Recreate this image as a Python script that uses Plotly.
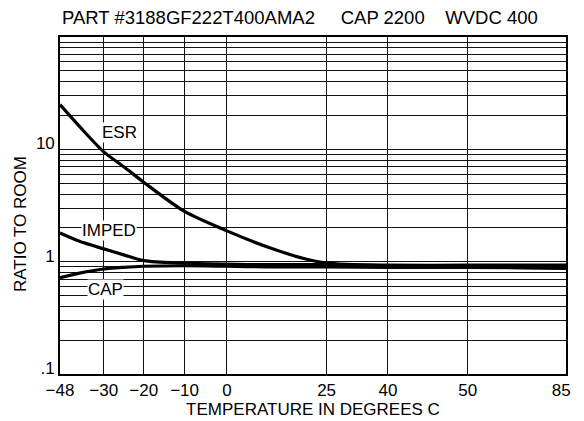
import numpy as np
import plotly.graph_objects as go

# ---- data ----
temps = [-48, -40, -30, -25, -20, -10, 0, 10, 20, 25, 40, 50, 85]
esr = [25.0, 16.0, 9.5, 7.0, 5.1, 2.8, 1.88, 1.36, 1.05, 0.97, 0.92, 0.9, 0.87]
imped = [1.8, 1.52, 1.3, 1.15, 1.02, 0.97, 0.95, 0.94, 0.94, 0.94, 0.93, 0.93, 0.93]
cap = [0.72, 0.79, 0.86, 0.89, 0.91, 0.92, 0.91, 0.9, 0.9, 0.9, 0.89, 0.89, 0.88]

x_tick_temps = [-48, -30, -20, -10, 0, 25, 40, 50, 85]
x_tick_text = ["\u221248", "\u221230", "\u221220", "\u221210", "0", "25", "40", "50",
               "85\u00a0\u00a0"]
y_labels = {0.1: ".1", 1: "1", 10: "10"}

# ---- custom (non-linear) temperature scale of the printed chart ----
scale_stops = [0, 45, 86, 128, 171.5, 274, 337, 419, 520]


def tx(t):
    return np.interp(t, x_tick_temps, scale_stops)


y_tickvals = []
y_ticktext = []
for dec in [0.1, 1, 10]:
    for k in range(1, 10):
        v = round(k * dec, 3)
        y_tickvals.append(v)
        y_ticktext.append(y_labels.get(v, ""))
y_tickvals.append(100)
y_ticktext.append("")

FONT = "Liberation Sans, Arial, sans-serif"

fig = go.Figure()
for name, vals in [("ESR", esr), ("IMPED", imped), ("CAP", cap)]:
    fig.add_trace(go.Scatter(
        x=tx(temps), y=vals, mode="lines", name=name,
        line=dict(color="black", width=3.2, shape="spline", smoothing=0.8),
        showlegend=False, hoverinfo="skip"))

fig.update_layout(
    width=584, height=421,
    margin=dict(l=60, r=4, t=37, b=47),
    paper_bgcolor="white", plot_bgcolor="white",
    font=dict(family=FONT, size=17, color="black"),
    title=dict(
        text="PART #3188GF222T400AMA2\u00a0\u00a0\u00a0\u00a0\u00a0CAP 2200\u00a0\u00a0\u00a0\u00a0WVDC 400",
        x=62 / 584, xanchor="left", xref="container",
        y=1 - 18 / 421, yanchor="middle", yref="container",
        font=dict(family=FONT, size=18.5, color="black")),
)

fig.update_xaxes(
    range=[0, 520], tickvals=tx(x_tick_temps), ticktext=x_tick_text,
    showgrid=True, gridcolor="#111", gridwidth=1.3,
    showline=True, linecolor="black", linewidth=1.6, mirror=True,
    ticks="", zeroline=False, ticklabeloverflow="allow",
    tickfont=dict(size=17),
    title=dict(text="TEMPERATURE IN DEGREES C", font=dict(size=17), standoff=4),
)
fig.update_yaxes(
    type="log", range=[-1, 2], tickvals=y_tickvals, ticktext=y_ticktext,
    showgrid=True, gridcolor="#111", gridwidth=1.3,
    showline=True, linecolor="black", linewidth=1.6, mirror=True,
    ticks="", zeroline=False, tickfont=dict(size=17),
    ticklabelshift=-6, ticklabeloverflow="allow",
)

fig.add_annotation(x=(20 - 60) / 520, y=(374 - 224) / 337, xref="paper", yref="paper",
                   xanchor="center", yanchor="middle",
                   text="RATIO TO ROOM", textangle=-90, showarrow=False,
                   font=dict(size=17))

for txt, px, py in [("ESR", 121, 132), ("IMPED", 110, 230), ("CAP", 107, 289)]:
    fig.add_annotation(x=(px - 60) / 520, y=(374 - py) / 337, xref="paper", yref="paper",
                       xanchor="center", yanchor="middle",
                       text=txt, showarrow=False, bgcolor="white",
                       font=dict(size=17), borderpad=0)

fig.write_html(
    "out.html",
    config={"displayModeBar": False},
    post_script="document.body.style.margin='0';document.body.style.padding='0';",
)
